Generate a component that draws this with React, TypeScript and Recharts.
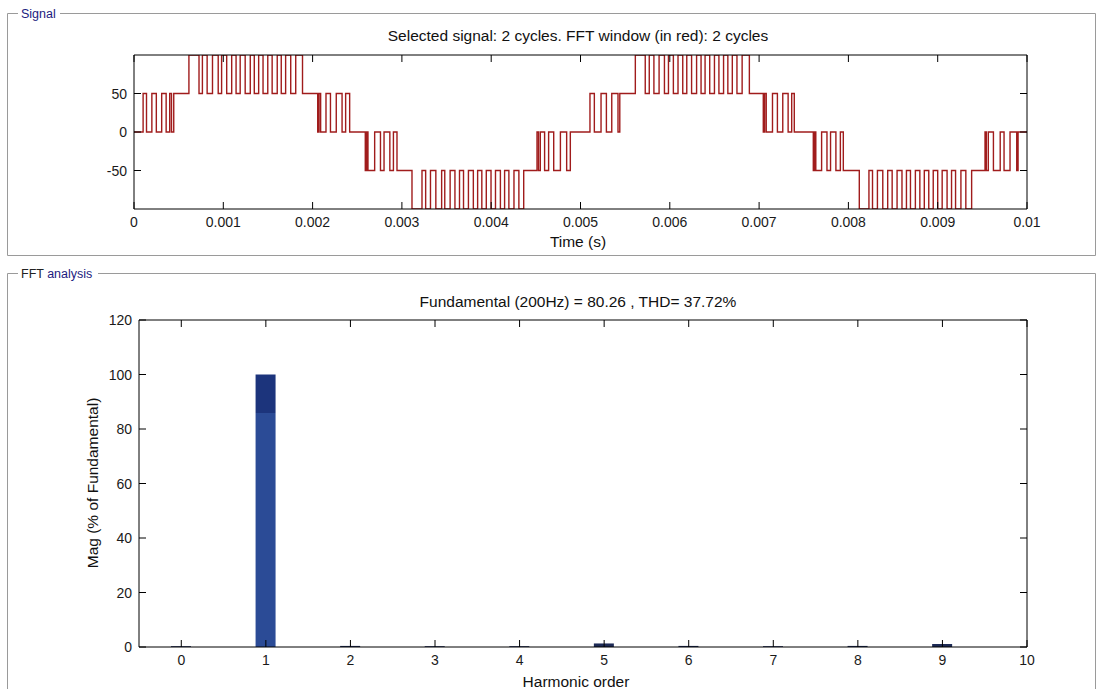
import React from 'react';
import { LineChart, Line, XAxis, YAxis, BarChart, Bar, Cell } from 'recharts';

// ---------- Signal panel data ----------
const timeTicks = [0, 0.001, 0.002, 0.003, 0.004, 0.005, 0.006, 0.007, 0.008, 0.009, 0.01];
const signalTicks = [-50, 0, 50];

// [time in ms, level reached at that instant]
const signalSteps: [number, number][] = [
  [0, 0], [0.102, 50], [0.14, 0], [0.2, 50], [0.25, 0], [0.31, 50], [0.36, 0], [0.4, 50], [0.42, 0], [0.445, 50],
  [0.615, 100], [0.728, 50], [0.766, 100], [0.819, 50], [0.879, 100], [0.943, 50], [0.981, 100], [1.038, 50],
  [1.094, 100], [1.143, 50], [1.189, 100], [1.245, 50], [1.302, 100], [1.347, 50], [1.396, 100], [1.445, 50],
  [1.498, 100], [1.547, 50], [1.604, 100], [1.649, 50], [1.698, 100], [1.755, 50], [1.811, 100], [1.887, 50],
  [2.057, 0], [2.072, 50], [2.09, 0], [2.15, 50], [2.2, 0], [2.265, 50], [2.33, 0], [2.37, 50], [2.415, 0],
  [2.59, -50], [2.605, 0], [2.62, -50], [2.695, 0], [2.76, -50], [2.8, 0], [2.865, -50], [2.905, 0], [2.945, -50],
  [3.113, -100], [3.225, -50], [3.266, -100], [3.32, -50], [3.38, -100], [3.445, -50], [3.48, -100], [3.54, -50],
  [3.594, -100], [3.645, -50], [3.69, -100], [3.745, -50], [3.8, -100], [3.848, -50], [3.895, -100], [3.945, -50],
  [3.998, -100], [4.048, -50], [4.103, -100], [4.15, -50], [4.198, -100], [4.255, -50], [4.31, -100], [4.364, -50],
  [4.513, 0], [4.53, -50], [4.55, 0], [4.598, -50], [4.643, 0], [4.7, -50], [4.775, 0], [4.845, -50], [4.886, 0],
  [5.106, 50], [5.155, 0], [5.23, 50], [5.29, 0], [5.35, 50], [5.42, 0], [5.44, 50],
  [5.614, 100], [5.725, 50], [5.77, 100], [5.822, 50], [5.88, 100], [5.94, 50], [5.985, 100], [6.04, 50],
  [6.092, 100], [6.145, 50], [6.19, 100], [6.244, 50], [6.3, 100], [6.35, 50], [6.395, 100], [6.447, 50],
  [6.5, 100], [6.55, 50], [6.602, 100], [6.65, 50], [6.7, 100], [6.752, 50], [6.81, 100], [6.891, 50],
  [7.047, 0], [7.062, 50], [7.08, 0], [7.15, 50], [7.205, 0], [7.265, 50], [7.325, 0], [7.365, 50], [7.394, 0],
  [7.607, -50], [7.62, 0], [7.635, -50], [7.7, 0], [7.76, -50], [7.8, 0], [7.86, -50], [7.91, 0], [7.943, -50],
  [8.122, -100], [8.23, -50], [8.27, -100], [8.325, -50], [8.385, -100], [8.44, -50], [8.49, -100], [8.545, -50],
  [8.6, -100], [8.65, -50], [8.695, -100], [8.75, -50], [8.8, -100], [8.85, -50], [8.9, -100], [8.95, -50],
  [9.0, -100], [9.05, -50], [9.105, -100], [9.155, -50], [9.2, -100], [9.26, -50], [9.315, -100], [9.38, -50],
  [9.53, 0], [9.545, -50], [9.567, 0], [9.624, -50], [9.7, 0], [9.743, -50], [9.81, 0], [9.885, -50], [9.9, 0],
  [10, 0],
];

// ---------- FFT panel data ----------
const harmonicOrder = [0, 1, 2, 3, 4, 5, 6, 7, 8, 9];
const harmonicMag = [0.3, 100, 0.4, 0.3, 0.3, 1.3, 0.4, 0.3, 0.4, 1.1];
const harmonicTicks = [0, 1, 2, 3, 4, 5, 6, 7, 8, 9, 10];
const magTicks = [0, 20, 40, 60, 80, 100, 120];

const signalTitle = 'Selected signal: 2 cycles. FFT window (in red): 2 cycles';
const fftTitle = 'Fundamental (200Hz) = 80.26 , THD= 37.72%';

const signalData = signalSteps.map(([ms, v]) => ({ t: ms / 1000, v }));
const fftData = harmonicOrder.map((h, i) => ({ h, mag: harmonicMag[i] }));

const FONT = '"Liberation Sans", Arial, sans-serif';
const TICK_FONT = 14;
const TICK_LEN = 7;
const TEXT_COLOR = '#1a1a1a';

// inward-pointing MATLAB-style ticks (tickSize 0 / tickMargin 0 -> x,y are on the axis line)
const BottomTick = (props: any) => {
  const { x, y, payload } = props;
  return (
    <g>
      <line x1={x} y1={y} x2={x} y2={y - TICK_LEN} stroke="#000" />
      <text x={x} y={y + 18} textAnchor="middle" fontSize={TICK_FONT} fill={TEXT_COLOR}>
        {String(payload.value)}
      </text>
    </g>
  );
};
const TopTick = (props: any) => {
  const { x, y } = props;
  return <line x1={x} y1={y} x2={x} y2={y + TICK_LEN} stroke="#000" />;
};
const LeftTick = (props: any) => {
  const { x, y, payload } = props;
  return (
    <g>
      <line x1={x} y1={y} x2={x + TICK_LEN} y2={y} stroke="#000" />
      <text x={x - 7} y={y + 5} textAnchor="end" fontSize={TICK_FONT} fill={TEXT_COLOR}>
        {String(payload.value)}
      </text>
    </g>
  );
};
const RightTick = (props: any) => {
  const { x, y } = props;
  return <line x1={x} y1={y} x2={x - TICK_LEN} y2={y} stroke="#000" />;
};

const axisCommon = { tickSize: 0, tickMargin: 0, tickLine: false, stroke: '#000', interval: 0 as const, allowDataOverflow: true };

export default function App() {
  return (
    <div style={{ position: 'absolute', left: 0, top: 0, width: 1099, height: 689, background: '#fff', fontFamily: FONT, overflow: 'hidden' }}>
      <svg width={1099} height={689} style={{ position: 'absolute', left: 0, top: 0 }}>
        {/* group boxes */}
        <path d="M18,13.5 H7.5 V255.5 H1095.5 V13.5 H60" fill="none" stroke="#9a9a9a" strokeWidth={1} />
        <text x={21} y={18} fontSize={12.5} fill="#1c1c80">Signal</text>
        <path d="M18,273.5 H7.5 V689 M1095.5,689 V273.5 H98" fill="none" stroke="#9a9a9a" strokeWidth={1} />
        <text x={21} y={278} fontSize={12.5} fill="#1c1c80"><tspan fill="#222">FFT</tspan> analysis</text>
        {/* titles */}
        <text x={578} y={41} fontSize={15.5} textAnchor="middle" fill="#111">{signalTitle}</text>
        <text x={578} y={247} fontSize={15.5} textAnchor="middle" fill="#111">Time (s)</text>
        <text x={578} y={307} fontSize={15.5} textAnchor="middle" fill="#111">{fftTitle}</text>
        <text x={576} y={687} fontSize={15.5} textAnchor="middle" fill="#111">Harmonic order</text>
        <text x={0} y={0} fontSize={15.5} textAnchor="middle" fill="#111" transform="translate(98,483) rotate(-90)">Mag (% of Fundamental)</text>
      </svg>

      <div style={{ position: 'absolute', left: 0, top: 0 }}>
        <LineChart width={1099} height={260} data={signalData} margin={{ top: 54, right: 71, bottom: 21, left: 84 }}>
          <XAxis {...axisCommon} dataKey="t" type="number" domain={[0, 0.01]} ticks={timeTicks} height={30}
            tick={<BottomTick />} />
          <XAxis {...axisCommon} xAxisId="top" orientation="top" dataKey="t" type="number" domain={[0, 0.01]}
            ticks={timeTicks} height={1} tick={<TopTick />} />
          <YAxis {...axisCommon} type="number" domain={[-100, 100]} ticks={signalTicks} width={50} tick={<LeftTick />} />
          <YAxis {...axisCommon} yAxisId="right" orientation="right" type="number" domain={[-100, 100]}
            ticks={signalTicks} width={1} tick={<RightTick />} />
          <Line type="stepAfter" dataKey="v" stroke="#a01c1c" strokeWidth={1.4} dot={false} isAnimationActive={false} />
        </LineChart>
      </div>

      <div style={{ position: 'absolute', left: 0, top: 0 }}>
        <BarChart width={1099} height={689} data={fftData} margin={{ top: 319, right: 71, bottom: 12, left: 89 }}>
          <defs>
            <linearGradient id="fundFill" x1="0" y1="0" x2="0" y2="1">
              <stop offset="0" stopColor="#1c347c" />
              <stop offset="0.14" stopColor="#1c347c" />
              <stop offset="0.14" stopColor="#2b4b96" />
              <stop offset="1" stopColor="#2b4b96" />
            </linearGradient>
          </defs>
          <XAxis {...axisCommon} dataKey="h" type="number" domain={[-0.5, 10]} ticks={harmonicTicks} height={30}
            tick={<BottomTick />} />
          <XAxis {...axisCommon} xAxisId="top" orientation="top" dataKey="h" type="number" domain={[-0.5, 10]}
            ticks={harmonicTicks} height={1} tick={<TopTick />} />
          <YAxis {...axisCommon} type="number" domain={[0, 120]} ticks={magTicks} width={50} tick={<LeftTick />} />
          <YAxis {...axisCommon} yAxisId="right" orientation="right" type="number" domain={[0, 120]}
            ticks={magTicks} width={1} tick={<RightTick />} />
          <Bar dataKey="mag" barSize={20} isAnimationActive={false}>
            {fftData.map((d, i) => (
              <Cell key={i} fill={d.h === 1 ? 'url(#fundFill)' : '#1d2a55'} />
            ))}
          </Bar>
        </BarChart>
      </div>
    </div>
  );
}
